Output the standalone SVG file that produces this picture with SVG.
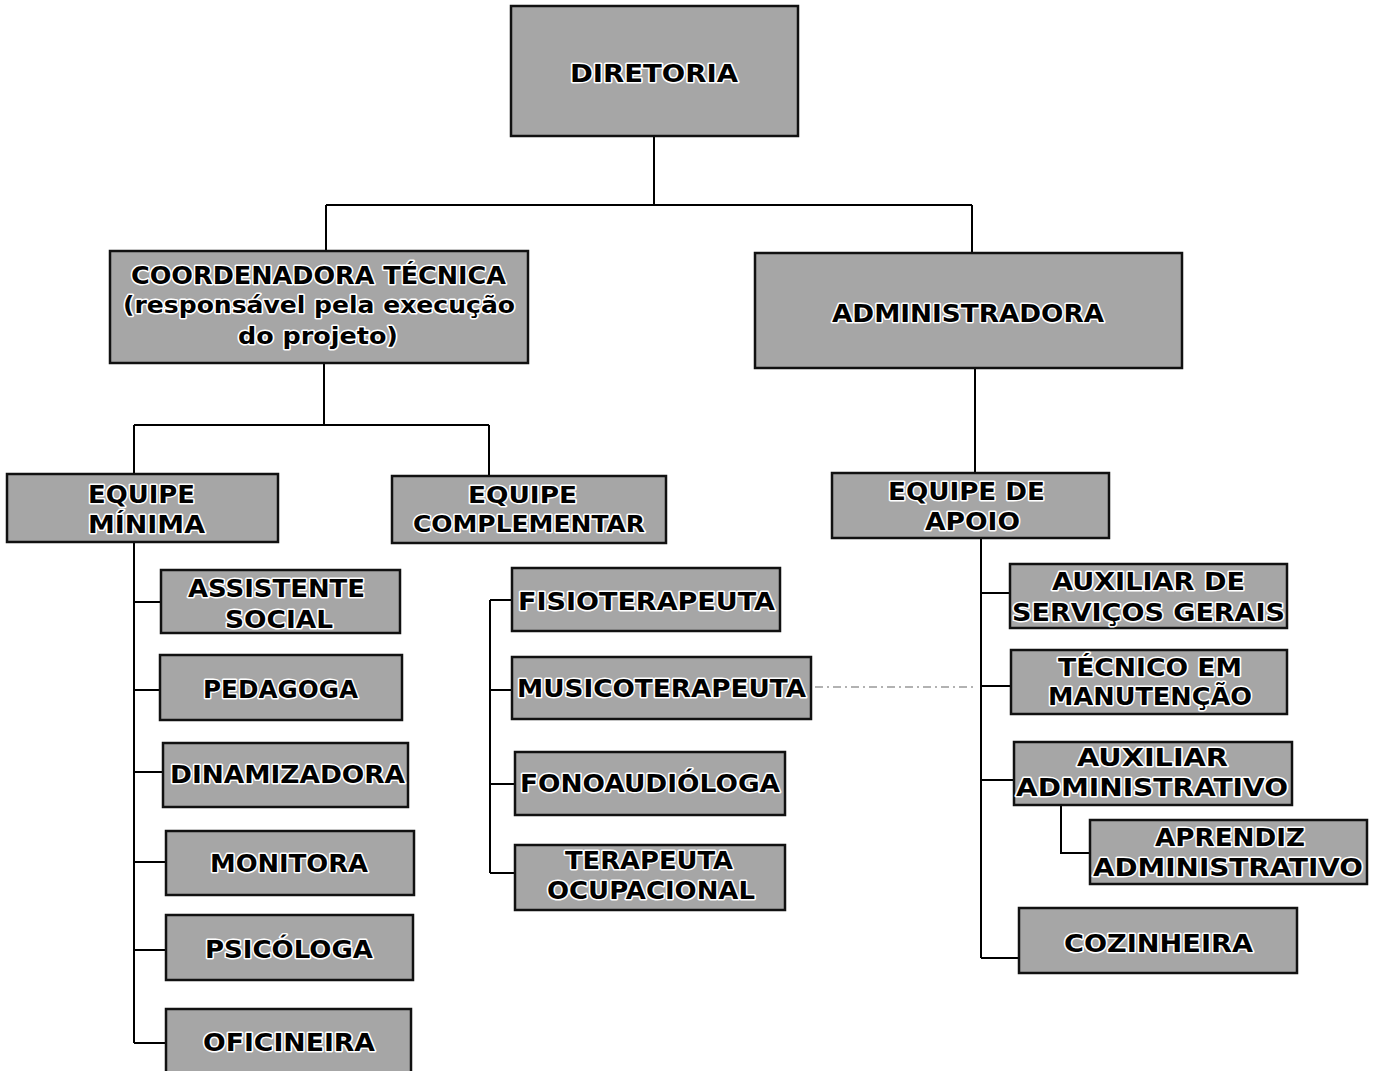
<svg xmlns="http://www.w3.org/2000/svg" width="1375" height="1071" viewBox="0 0 1375 1071">
<style>
.b{fill:#a6a6a6;stroke:#111;stroke-width:2.5}
.t{font-family:"DejaVu Sans","Verdana",sans-serif;font-weight:bold;font-size:25px;fill:#000;stroke:#fff;stroke-width:3;paint-order:stroke;stroke-linejoin:round}
.s{font-size:23px}
.c{fill:none;stroke:#000;stroke-width:2}
.d{fill:none;stroke:#999;stroke-width:1.5;stroke-dasharray:8 4 2 4}
</style>
<rect width="1375" height="1071" fill="#fff"/>
<g id="connectors">
<path class="c" d="M654 136V205M326 205H972M326 205V251M972 205V253"/>
<path class="c" d="M324 363V425M134 425H489M134 425V474M489 425V476"/>
<path class="c" d="M975 369V473"/>
<path class="c" d="M134 542V1043M134 602H161M134 690H160M134 772H163M134 862H166M134 950H166M134 1043H166"/>
<path class="c" d="M490 600V873M490 600H512M490 690H512M490 784H515M490 873H515"/>
<path class="c" d="M981 538V958M981 593H1010M981 686H1011M981 780H1014M981 958H1019"/>
<path class="c" d="M1061 805V853H1090"/>
<path class="d" d="M815 687H975"/>
</g>
<g id="diretoria"><rect class="b" x="511" y="6" width="287" height="130"/><text class="t" x="570" y="82" textLength="168" lengthAdjust="spacingAndGlyphs">DIRETORIA</text></g>
<g id="coordenadora"><rect class="b" x="110" y="251" width="418" height="112"/>
<text class="t" x="131" y="284" textLength="375" lengthAdjust="spacingAndGlyphs">COORDENADORA TÉCNICA</text>
<text class="t s" x="123" y="313" textLength="392" lengthAdjust="spacingAndGlyphs">(responsável pela execução</text>
<text class="t s" x="238" y="344" textLength="160" lengthAdjust="spacingAndGlyphs">do projeto)</text></g>
<g id="administradora"><rect class="b" x="755" y="253" width="427" height="115"/><text class="t" x="832" y="322" textLength="272" lengthAdjust="spacingAndGlyphs">ADMINISTRADORA</text></g>
<g id="equipe-minima"><rect class="b" x="7" y="474" width="271" height="68"/>
<text class="t" x="88" y="503" textLength="107" lengthAdjust="spacingAndGlyphs">EQUIPE</text>
<text class="t" x="88" y="533" textLength="117" lengthAdjust="spacingAndGlyphs">MÍNIMA</text></g>
<g id="equipe-complementar"><rect class="b" x="392" y="476" width="274" height="67"/>
<text class="t s" x="468" y="503" textLength="109" lengthAdjust="spacingAndGlyphs">EQUIPE</text>
<text class="t s" x="413" y="532" textLength="232" lengthAdjust="spacingAndGlyphs">COMPLEMENTAR</text></g>
<g id="equipe-apoio"><rect class="b" x="832" y="473" width="277" height="65"/>
<text class="t" x="888" y="500" textLength="157" lengthAdjust="spacingAndGlyphs">EQUIPE DE</text>
<text class="t" x="925" y="530" textLength="95" lengthAdjust="spacingAndGlyphs">APOIO</text></g>
<g id="assistente-social"><rect class="b" x="161" y="570" width="239" height="63"/>
<text class="t" x="188" y="597" textLength="177" lengthAdjust="spacingAndGlyphs">ASSISTENTE</text>
<text class="t" x="225" y="628" textLength="108" lengthAdjust="spacingAndGlyphs">SOCIAL</text></g>
<g id="pedagoga"><rect class="b" x="160" y="655" width="242" height="65"/><text class="t" x="203" y="698" textLength="155" lengthAdjust="spacingAndGlyphs">PEDAGOGA</text></g>
<g id="dinamizadora"><rect class="b" x="163" y="743" width="245" height="64"/><text class="t" x="170" y="783" textLength="235" lengthAdjust="spacingAndGlyphs">DINAMIZADORA</text></g>
<g id="monitora"><rect class="b" x="166" y="831" width="248" height="64"/><text class="t" x="210" y="872" textLength="158" lengthAdjust="spacingAndGlyphs">MONITORA</text></g>
<g id="psicologa"><rect class="b" x="166" y="915" width="247" height="65"/><text class="t" x="205" y="958" textLength="168" lengthAdjust="spacingAndGlyphs">PSICÓLOGA</text></g>
<g id="oficineira"><rect class="b" x="166" y="1009" width="245" height="66"/><text class="t" x="203" y="1051" textLength="172" lengthAdjust="spacingAndGlyphs">OFICINEIRA</text></g>
<g id="fisioterapeuta"><rect class="b" x="512" y="568" width="268" height="63"/><text class="t" x="518" y="610" textLength="257" lengthAdjust="spacingAndGlyphs">FISIOTERAPEUTA</text></g>
<g id="musicoterapeuta"><rect class="b" x="512" y="657" width="299" height="62"/><text class="t" x="517" y="697" textLength="289" lengthAdjust="spacingAndGlyphs">MUSICOTERAPEUTA</text></g>
<g id="fonoaudiologa"><rect class="b" x="515" y="752" width="270" height="63"/><text class="t" x="520" y="792" textLength="260" lengthAdjust="spacingAndGlyphs">FONOAUDIÓLOGA</text></g>
<g id="terapeuta-ocupacional"><rect class="b" x="515" y="845" width="270" height="65"/>
<text class="t" x="565" y="869" textLength="168" lengthAdjust="spacingAndGlyphs">TERAPEUTA</text>
<text class="t" x="547" y="899" textLength="208" lengthAdjust="spacingAndGlyphs">OCUPACIONAL</text></g>
<g id="auxiliar-servicos-gerais"><rect class="b" x="1010" y="564" width="277" height="64"/>
<text class="t" x="1052" y="590" textLength="193" lengthAdjust="spacingAndGlyphs">AUXILIAR DE</text>
<text class="t" x="1012" y="621" textLength="273" lengthAdjust="spacingAndGlyphs">SERVIÇOS GERAIS</text></g>
<g id="tecnico-manutencao"><rect class="b" x="1011" y="650" width="276" height="64"/>
<text class="t" x="1058" y="676" textLength="184" lengthAdjust="spacingAndGlyphs">TÉCNICO EM</text>
<text class="t" x="1048" y="705" textLength="204" lengthAdjust="spacingAndGlyphs">MANUTENÇÃO</text></g>
<g id="auxiliar-administrativo"><rect class="b" x="1014" y="742" width="278" height="63"/>
<text class="t" x="1077" y="766" textLength="151" lengthAdjust="spacingAndGlyphs">AUXILIAR</text>
<text class="t" x="1016" y="796" textLength="272" lengthAdjust="spacingAndGlyphs">ADMINISTRATIVO</text></g>
<g id="aprendiz-administrativo"><rect class="b" x="1090" y="820" width="277" height="64"/>
<text class="t" x="1155" y="846" textLength="150" lengthAdjust="spacingAndGlyphs">APRENDIZ</text>
<text class="t" x="1093" y="876" textLength="270" lengthAdjust="spacingAndGlyphs">ADMINISTRATIVO</text></g>
<g id="cozinheira"><rect class="b" x="1019" y="908" width="278" height="65"/><text class="t" x="1064" y="952" textLength="189" lengthAdjust="spacingAndGlyphs">COZINHEIRA</text></g>
</svg>
